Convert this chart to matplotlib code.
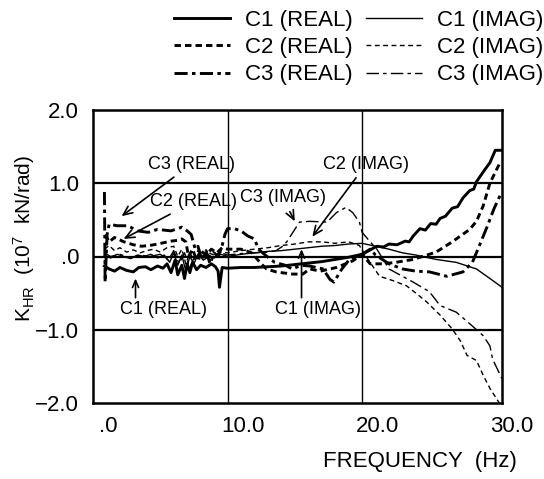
import matplotlib
matplotlib.use("Agg")
import matplotlib.pyplot as plt
import matplotlib.transforms as mtransforms

plt.rcParams['font.family'] = ['Liberation Sans', 'DejaVu Sans']
plt.rcParams['mathtext.fontset'] = 'custom'
plt.rcParams['mathtext.rm'] = 'Liberation Sans'
plt.rcParams['mathtext.it'] = 'Liberation Sans'

# ---------------- data ----------------
c1_real_f = [0.85, 1.2, 1.6, 2.0, 2.5, 3.0, 3.4, 3.9, 4.3, 4.8, 5.2, 5.5, 5.8, 6.1, 6.3, 6.6, 6.8, 7.0, 7.2, 7.4,
             7.7, 8.0, 8.4, 8.8, 9.1, 9.3, 9.4, 9.6, 10, 11, 12, 13, 14, 15, 16, 17, 18, 19, 20, 20.5,
             21.1, 21.6, 22, 22.6, 23.2, 23.5, 23.8, 24.3, 24.7, 25.1, 25.5, 25.8, 26.2, 26.7, 27.1, 27.5, 28.0, 28.3,
             28.5, 29.1, 29.5, 29.9, 30.3]
c1_real_v = [-0.13, -0.17, -0.2, -0.15, -0.19, -0.21, -0.15, -0.14, -0.18, -0.13, -0.16, -0.1, -0.22, -0.05, -0.25, -0.12, -0.3, -0.1, -0.22, -0.08,
             -0.18, -0.12, -0.15, -0.1, -0.14, -0.2, -0.42, -0.15, -0.16, -0.15, -0.15, -0.14, -0.13, -0.11, -0.09, -0.07, -0.04, -0.01, 0.03, 0.08,
             0.14, 0.13, 0.17, 0.16, 0.21, 0.2, 0.28, 0.38, 0.36, 0.45, 0.44, 0.52, 0.55, 0.66, 0.68, 0.8, 0.9, 0.92,
             1.02, 1.18, 1.28, 1.45, 1.45]

c1_imag_f = [0.85, 1.3, 1.8, 2.3, 2.8, 3.3, 3.8, 4.3, 4.8, 5.3, 5.7, 6.0, 6.3, 6.6, 6.9, 7.2, 7.5, 7.8, 8.2, 8.6,
             9.0, 9.5, 10, 11, 12, 13, 14, 15, 16, 17, 18, 19, 20, 21, 22, 23, 24, 25.5, 27, 28.5, 29.5, 30.4]
c1_imag_v = [0.02, -0.02, 0.03, 0.0, -0.03, 0.02, 0.0, 0.03, -0.02, 0.02, -0.08, 0.05, -0.12, 0.02, -0.2, 0.0, -0.1, 0.03, -0.05, 0.0,
             -0.02, 0.03, 0.0, 0.03, 0.05, 0.07, 0.08, 0.1, 0.12, 0.14, 0.15, 0.17, 0.18, 0.14, 0.1, 0.05, 0.02, -0.04, -0.08, -0.17, -0.3, -0.42]

c2_real_f = [0.9, 1.2, 1.6, 2.3, 3.0, 3.6, 4.2, 4.8, 5.3, 5.8, 6.3, 6.6, 6.9, 7.1, 7.4, 7.7, 8.0, 8.4, 8.8, 9.2,
             9.6, 10, 11, 11.8, 12.5, 12.9, 13.6, 14.8, 15.6, 16.1, 16.9, 18.1, 19.3, 20.0, 20.6, 21.5, 22.5, 23.8, 25.5, 26.7,
             28.0, 28.5, 29.0, 29.5, 30.3]
c2_real_v = [0.3, 0.2, 0.26, 0.2, 0.16, 0.14, 0.15, 0.17, 0.19, 0.21, 0.22, 0.24, 0.2, 0.0, 0.1, -0.05, 0.08, 0.02, 0.1, 0.05,
             0.12, 0.1, 0.1, 0.05, -0.1, -0.17, -0.21, -0.24, -0.24, -0.17, -0.2, -0.15, -0.06, 0.03, -0.1, -0.1, -0.08, -0.04, 0.06, 0.2,
             0.37, 0.48, 0.69, 1.0, 1.3]

c3_real_f = [0.85, 0.9, 1.05, 1.2, 1.8, 2.6, 3.3, 4.1, 4.8, 5.8, 6.6, 7.0, 7.3, 7.6, 7.8, 8.1, 8.4, 8.7, 9.0, 9.3,
             9.6, 9.8, 10.0, 10.5, 11.0, 11.5, 12.0, 12.3, 12.8, 13.5, 14.3, 14.8, 15.5, 16.1, 17.1, 17.6, 17.9, 18.5, 19.1, 19.6,
             20.0, 20.6, 21.0, 22, 23, 24, 25, 26.3, 27.5, 28.2, 28.7, 29.3, 29.8, 30.3]
c3_real_v = [0.88, -0.35, 0.3, 0.44, 0.42, 0.42, 0.35, 0.33, 0.37, 0.35, 0.4, 0.35, 0.3, 0.1, 0.14, -0.05, 0.08, -0.1, 0.05, 0.0,
             0.15, 0.3, 0.38, 0.38, 0.35, 0.28, 0.24, 0.1, 0.02, -0.08, -0.12, -0.17, -0.12, -0.13, -0.17, -0.31, -0.35, -0.17, -0.03, 0.0,
             0.03, 0.1, 0.02, -0.1, -0.17, -0.2, -0.21, -0.27, -0.21, -0.08, 0.14, 0.41, 0.65, 0.85]

c2_imag_f = [0.85, 1.2, 1.6, 2.0, 2.5, 3.0, 3.5, 4.0, 4.5, 5.0, 5.5, 6.0, 6.3, 6.6, 6.9, 7.2, 7.5, 7.8, 8.2, 8.6,
             9.0, 9.5, 10, 11, 12, 13, 14, 15, 16, 17, 18, 19, 19.8, 20.3, 21.3, 22.3, 23.3, 24.0, 24.8, 25.8,
             26.7, 27.3, 27.8, 28.5, 29.0, 29.5, 30.2]
c2_imag_v = [0.1, 0.15, 0.08, 0.12, 0.06, 0.09, 0.05, 0.08, 0.1, 0.06, 0.12, 0.14, 0.0, 0.1, -0.1, 0.05, -0.05, 0.08, 0.0, 0.05,
             0.02, 0.06, 0.05, 0.08, 0.1, 0.12, 0.15, 0.17, 0.2, 0.2, 0.18, 0.2, 0.15, 0.0, -0.27, -0.33, -0.4, -0.5, -0.62, -0.8,
             -0.99, -1.15, -1.35, -1.42, -1.62, -1.8, -2.0]

c3_imag_f = [0.85, 1.3, 2.0, 2.8, 3.5, 4.2, 5.0, 5.6, 6.0, 6.4, 6.8, 7.2, 7.6, 8.0, 8.5, 9.0, 9.5, 10, 11, 12,
             13, 13.6, 14.1, 14.4, 15.35, 16.1, 17.4, 18.1, 18.8, 19.3, 19.8, 20.0, 20.6, 21.1, 22.0, 23.0, 23.8, 25.0, 25.8, 27.0,
             28.2, 29.0, 29.5, 29.7, 30.4]
c3_imag_v = [0.05, 0.0, 0.03, -0.02, 0.02, 0.0, 0.03, -0.05, 0.08, -0.1, 0.05, -0.15, 0.02, -0.05, 0.03, -0.02, 0.05, 0.02, 0.04, 0.05,
             0.06, 0.08, 0.14, 0.2, 0.47, 0.48, 0.47, 0.6, 0.67, 0.6, 0.47, 0.33, 0.2, 0.1, -0.17, -0.27, -0.35, -0.48, -0.67, -0.76,
             -0.95, -1.08, -1.22, -1.4, -1.67]

series_labels = ["C1 (REAL)", "C2 (REAL)", "C3 (REAL)", "C1 (IMAG)", "C2 (IMAG)", "C3 (IMAG)"]
x_ticks = [0, 10, 20, 30]
x_tick_labels = [".0", "10.0", "20.0", "30.0"]
y_ticks = [2, 1, 0, -1, -2]
y_tick_labels = ["2.0", "1.0", ".0", "\u22121.0", "\u22122.0"]
x_grid = [10, 20]
y_grid = [1, 0, -1]

# ---------------- figure ----------------
W, H = 544, 479
fig = plt.figure(figsize=(W / 100, H / 100), dpi=100)
ax = fig.add_axes([93 / W, 1 - 403 / H, (502 - 93) / W, (403 - 110) / H])
ax.set_xlim(0, 30.4)
ax.set_ylim(-2, 2)

for g in y_grid:
    ax.axhline(g, color='black', lw=1.6, zorder=1)
for g in x_grid:
    ax.axvline(g, color='black', lw=1.0, zorder=1)

thick = 2.1
thin = 1.0
ax.plot(c1_real_f, c1_real_v, color='black', lw=thick, ls='-', label=series_labels[0])
ax.plot(c2_real_f, c2_real_v, color='black', lw=thick, ls=(0, (2.2, 1.4)), label=series_labels[1])
ax.plot(c3_real_f, c3_real_v, color='black', lw=thick, ls=(0, (4.5, 1.5, 1.2, 1.5)), label=series_labels[2])
ax.plot(c1_imag_f, c1_imag_v, color='black', lw=thin, ls='-', label=series_labels[3])
ax.plot(c2_imag_f, c2_imag_v, color='black', lw=thin, ls=(0, (3.5, 2.5)), label=series_labels[4])
ax.plot(c3_imag_f, c3_imag_v, color='black', lw=thin, ls=(0, (9, 3, 2.5, 3)), label=series_labels[5])

for s in ax.spines.values():
    s.set_linewidth(1.8)

ax.set_xticks(x_ticks)
ax.set_xticklabels(x_tick_labels)
ax.set_yticks(y_ticks)
ax.set_yticklabels(y_tick_labels)
ax.tick_params(axis='both', length=0, labelsize=16)
ax.tick_params(axis='x', pad=9)
ax.tick_params(axis='y', pad=10)
offset = mtransforms.ScaledTranslation(15 / 100, 0, fig.dpi_scale_trans)
for lab in ax.get_xticklabels():
    lab.set_transform(lab.get_transform() + offset)

# axis titles
fig.text(517 / W, 1 - 461 / H, "FREQUENCY  (Hz)", ha='right', va='center', fontsize=16)
fig.text(24 / W, 1 - 238 / H, r"K$_{\mathrm{HR}}$  (10$^{7}$  kN/rad)", rotation=90,
         ha='center', va='center', fontsize=15)

# annotations
ann_fs = 13
arw = dict(arrowstyle='->,head_length=0.5,head_width=0.22', color='black', lw=1.2,
           shrinkA=2, shrinkB=0)
ax.annotate("C3 (REAL)", xy=(2.12, 0.55), xytext=(7.3, 1.26), ha='center', va='center',
            fontsize=ann_fs, arrowprops=arw)
ax.annotate("C2 (REAL)", xy=(2.27, 0.24), xytext=(7.5, 0.75), ha='center', va='center',
            fontsize=ann_fs, arrowprops=arw)
ax.annotate("C3 (IMAG)", xy=(15.0, 0.48), xytext=(14.1, 0.80), ha='center', va='center',
            fontsize=ann_fs, arrowprops=arw)
ax.annotate("C2 (IMAG)", xy=(16.3, 0.27), xytext=(20.3, 1.26), ha='center', va='center',
            fontsize=ann_fs, arrowprops=arw)
ax.text(5.24, -0.73, "C1 (REAL)", ha='center', va='center', fontsize=ann_fs)
ax.annotate("", xy=(3.16, -0.30), xytext=(3.16, -0.60), arrowprops=arw)
ax.text(16.7, -0.73, "C1 (IMAG)", ha='center', va='center', fontsize=ann_fs)
ax.annotate("", xy=(15.5, 0.10), xytext=(15.5, -0.60), arrowprops=arw)

# legend
handles, labels = ax.get_legend_handles_labels()
fig.legend(handles, labels, ncol=2, frameon=False, fontsize=16,
           loc='upper left', bbox_to_anchor=(174 / W, 1 - 10 / H),
           handlelength=2.5, handletextpad=0.7, columnspacing=0.6,
           labelspacing=0.28, borderaxespad=0, borderpad=0)

fig.savefig("out.png", dpi=100, facecolor='white')
